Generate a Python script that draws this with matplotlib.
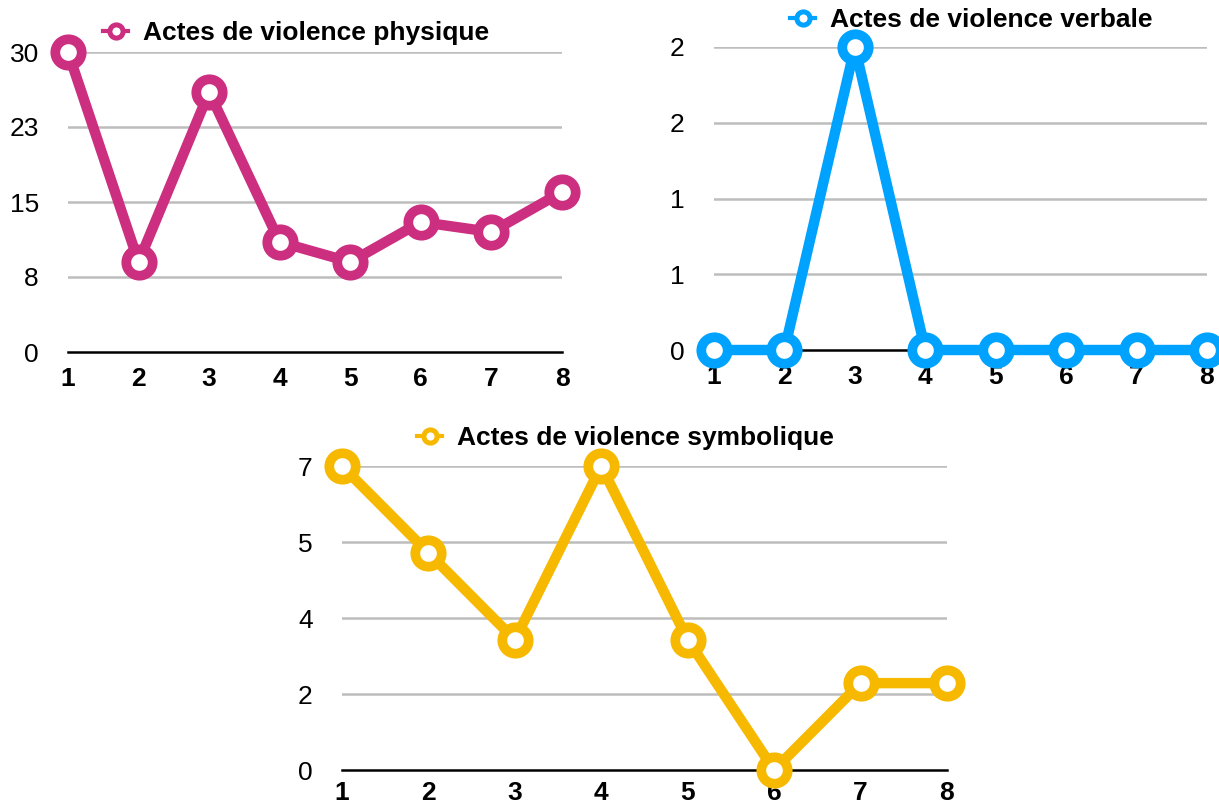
import matplotlib

matplotlib.use("Agg")
import matplotlib.pyplot as plt
from matplotlib.lines import Line2D

# data
periods = [1, 2, 3, 4, 5, 6, 7, 8]

physique_label = "Actes de violence physique"
physique_values = [30, 9, 26, 11, 9, 13, 12, 16]
physique_ticks = [0, 7.5, 15, 22.5, 30]
physique_tick_labels = ["0", "8", "15", "23", "30"]

verbale_label = "Actes de violence verbale"
verbale_values = [0, 0, 2, 0, 0, 0, 0, 0]
verbale_ticks = [0, 0.5, 1, 1.5, 2]
verbale_tick_labels = ["0", "1", "1", "2", "2"]

symbolique_label = "Actes de violence symbolique"
symbolique_values = [7, 5, 3, 7, 3, 0, 2, 2]
symbolique_ticks = [0, 1.75, 3.5, 5.25, 7]
symbolique_tick_labels = ["0", "2", "4", "5", "7"]

W, H = 1219, 806

plt.rcParams.update({
    "font.family": ["Liberation Sans", "DejaVu Sans"],
    "font.size": 19,
})


def px_rect(left, top, right, bottom):
    return [left / W, 1 - bottom / H, (right - left) / W, (bottom - top) / H]


def draw_panel(fig, rect, values, ticks, tick_labels, color, label, legend_xy, xpad=11):
    ax = fig.add_axes(rect)
    ax.plot(periods, values, color=color, linewidth=7.5, marker="o",
            markersize=19, markerfacecolor="white", markeredgecolor=color,
            markeredgewidth=7, clip_on=False, zorder=4)
    ax.set_xlim(periods[0], periods[-1])
    ax.set_ylim(ticks[0], ticks[-1])
    ax.set_xticks(periods)
    ax.set_xticklabels([str(p) for p in periods], fontweight="bold", fontsize=19)
    ax.set_yticks(ticks)
    ax.set_yticklabels(tick_labels, fontsize=19)
    ax.tick_params(axis="both", length=0)
    ax.tick_params(axis="y", pad=21)
    ax.tick_params(axis="x", pad=xpad)
    for t in ticks[1:]:
        ax.axhline(t, color="#BDBDBD", linewidth=1.8, zorder=1)
    for side in ("top", "right", "left"):
        ax.spines[side].set_visible(False)
    ax.spines["bottom"].set_color("black")
    ax.spines["bottom"].set_linewidth(1.8)
    ax.spines["bottom"].set_zorder(2)
    ax.set_facecolor("none")

    handle = Line2D([], [], color=color, linewidth=3, marker="o", markersize=9.5,
                    markerfacecolor="white", markeredgecolor=color, markeredgewidth=3.6)
    fig.legend(handles=[handle], labels=[label], loc="center left",
               bbox_to_anchor=(legend_xy[0] / W, 1 - legend_xy[1] / H),
               frameon=False, handlelength=0.95, handletextpad=0.55,
               borderpad=0, borderaxespad=0,
               prop={"weight": "bold", "size": 19})
    return ax


fig = plt.figure(figsize=(W / 100, H / 100), dpi=100)
fig.patch.set_facecolor("white")

draw_panel(fig, px_rect(68, 52, 562, 352), physique_values, physique_ticks,
           physique_tick_labels, "#CC2E80", physique_label, (103, 33))
draw_panel(fig, px_rect(714, 47, 1207, 350), verbale_values, verbale_ticks,
           verbale_tick_labels, "#00A2FF", verbale_label, (790, 20))
draw_panel(fig, px_rect(342, 466, 947, 770), symbolique_values, symbolique_ticks,
           symbolique_tick_labels, "#F7B900", symbolique_label, (417, 438), xpad=8)

fig.savefig("out.png", dpi=100, facecolor="white")
